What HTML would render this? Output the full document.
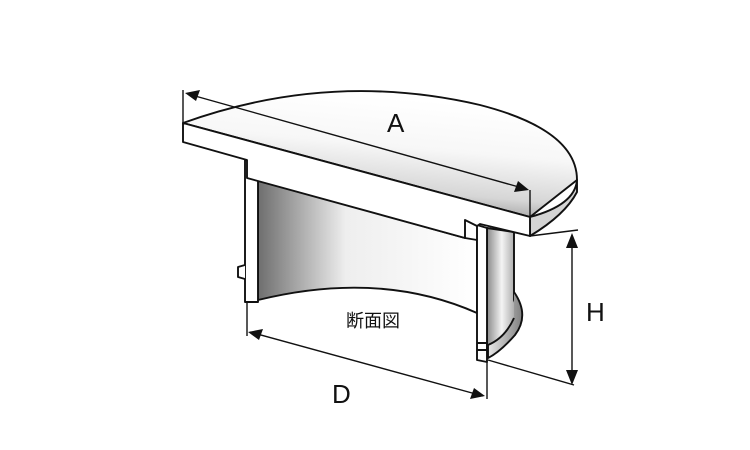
<!DOCTYPE html>
<html><head><meta charset="utf-8"><style>body{margin:0;background:#fff}svg{display:block}</style></head>
<body>
<svg width="750" height="450" viewBox="0 0 750 450" xmlns="http://www.w3.org/2000/svg">
<defs>
<linearGradient id="top" x1="0.1" y1="0.9" x2="0.35" y2="0">
<stop offset="0" stop-color="#8c8c8c"/><stop offset="0.25" stop-color="#d6d6d6"/><stop offset="0.6" stop-color="#f7f7f7"/><stop offset="1" stop-color="#ffffff"/></linearGradient>
<linearGradient id="inner" x1="0" y1="0" x2="1" y2="0">
<stop offset="0" stop-color="#6e6e6e"/><stop offset="0.4" stop-color="#eeeeee"/><stop offset="1" stop-color="#ffffff"/></linearGradient>
<linearGradient id="cyl" x1="0" y1="0" x2="1" y2="0">
<stop offset="0" stop-color="#8a8a8a"/><stop offset="0.5" stop-color="#f4f4f4"/><stop offset="1" stop-color="#a0a0a0"/></linearGradient>
<linearGradient id="lip" x1="0" y1="0" x2="1" y2="0">
<stop offset="0" stop-color="#e8e8e8"/><stop offset="1" stop-color="#808080"/></linearGradient>
</defs>
<g stroke="#111" stroke-width="1.9" stroke-linejoin="round" fill="none">
<path d="M258,180 L465,238 L477,240 L477,313 Q380,270 258,300 Z" fill="url(#inner)"/>
<path d="M487,228 L514,232 L514,300 Q522,318 505,335 Q495,345 487,348 Z" fill="url(#cyl)"/>
<path d="M514,292 Q530,315 515,335 Q500,352 488,358 L488,345 Q505,338 514,318" fill="url(#lip)"/>
<path d="M477,225 L487,228 L487,362 L477,360 Z" fill="#fff"/>
<path d="M477,343 L487,343 L487,350 L477,350" fill="none"/>
<path d="M245,160 L258,163 L258,302 L245,302 Z" fill="#fff"/>
<path d="M245,265 L238,267 L238,277 L245,279" fill="#fff"/>
<path d="M183,123 Q330,70 480,105 Q577,130 577,180 L530,217 Z" fill="url(#top)"/>
<path d="M530,217 Q575,205 577,180 L577,192 Q565,215 530,236 Z" fill="#d4d4d4"/>
<path d="M183,123 L530,217 L530,236 L480,224 L477,226 L465,220 L465,238 L247,178 L247,160 L183,142 Z" fill="#fff"/>
</g>
<g stroke="#111" stroke-width="1.4" fill="none">
<line x1="183" y1="90" x2="183" y2="123"/>
<line x1="530" y1="190" x2="530" y2="217"/>
<line x1="188" y1="94" x2="526" y2="189"/>
<line x1="530" y1="236" x2="578" y2="230"/>
<line x1="488" y1="360" x2="574" y2="385"/>
<line x1="572" y1="236" x2="572" y2="382"/>
<line x1="247" y1="302" x2="247" y2="336"/>
<line x1="487" y1="362" x2="487" y2="399"/>
<line x1="250" y1="332" x2="483" y2="396"/>
</g>
<g fill="#111">
<path d="M185,93 L200,90 L196,101 Z"/>
<path d="M529,190 L514,192 L518,181 Z"/>
<path d="M572,233 L566,248 L578,248 Z"/>
<path d="M572,385 L566,370 L578,370 Z"/>
<path d="M248,332 L263,329 L259,340 Z"/>
<path d="M485,396 L470,399 L474,388 Z"/>
</g>
<g font-family="Liberation Sans, sans-serif" font-size="26" fill="#111">
<text x="387" y="132">A</text>
<text x="586" y="321">H</text>
<text x="332" y="403">D</text>
</g>
<text x="346" y="327" font-family="'Liberation Sans','Noto Sans CJK JP',sans-serif" font-size="18" fill="#111">断面図</text>
</svg>
</body></html>
